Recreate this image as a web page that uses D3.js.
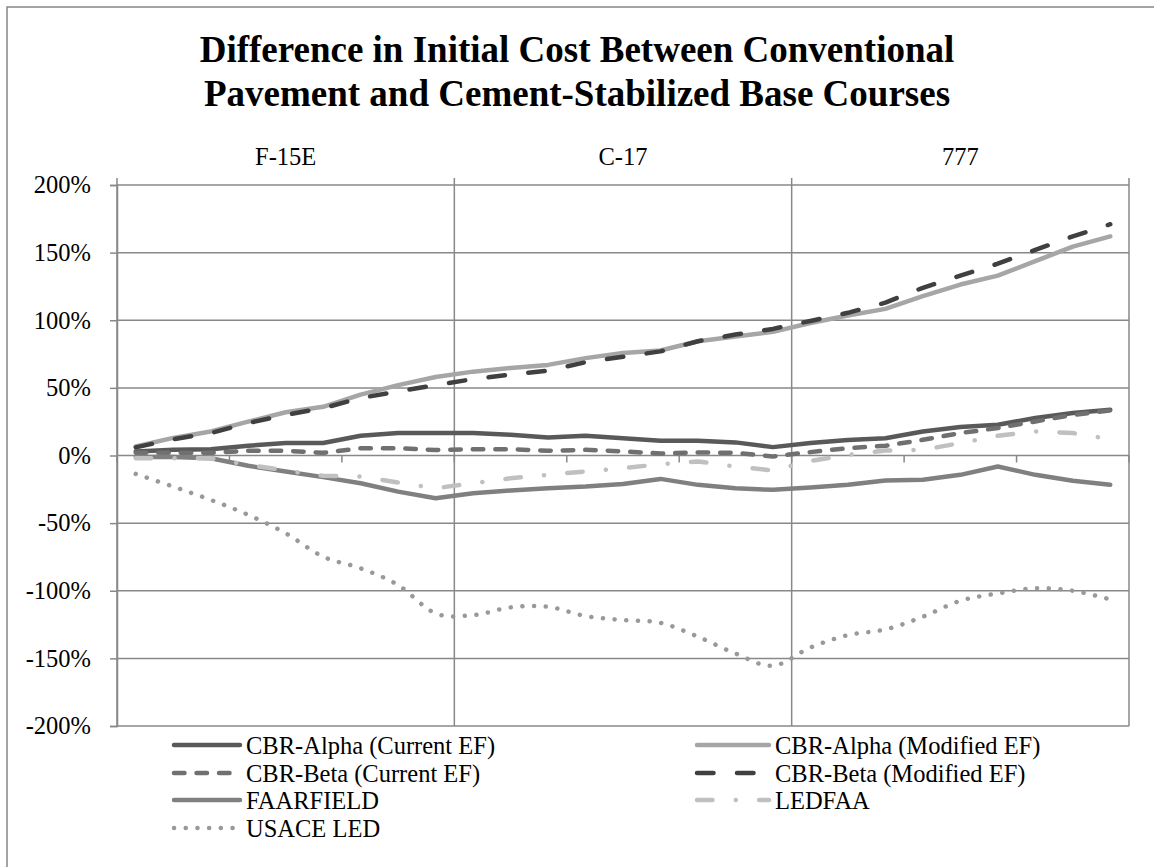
<!DOCTYPE html>
<html>
<head>
<meta charset="utf-8">
<script src="https://cdn.jsdelivr.net/npm/d3@7"></script>
<style>
  html, body { margin: 0; padding: 0; background: #fff; }
  svg { display: block; }
  text { font-family: "Liberation Serif", "Times New Roman", serif; fill: #000; }
</style>
</head>
<body>
<svg id="chart" width="1154" height="867"></svg>
<script>
// ---------------- data ----------------
const aircraft = ["F-15E", "C-17", "777"];
const cases = ["1", "2", "3", "4", "5", "6", "7", "8", "9"];
const categories = aircraft.flatMap(a => cases.map(c => a + "-" + c));

const yTicks = [-200, -150, -100, -50, 0, 50, 100, 150, 200];

const seriesNames = [
  "CBR-Alpha (Current EF)", "CBR-Alpha (Modified EF)",
  "CBR-Beta (Current EF)", "CBR-Beta (Modified EF)",
  "FAARFIELD", "LEDFAA", "USACE LED"
];

const cbrAlphaCurrent = [3, 4.2, 4.7, 7.2, 9.2, 9.2, 14.6, 16.6, 16.6, 16.6, 15.3, 13.3, 14.6, 12.8, 10.9, 10.9, 9.7, 6.2, 9.2, 11.5, 12.8, 17.8, 21, 22.7, 27.7, 31.4, 33.8];
const cbrAlphaModified = [6.7, 13, 17.8, 25, 32, 36, 45, 52, 58, 62, 64.7, 67, 72, 75.8, 77.6, 84.5, 88, 91.4, 98, 103.5, 108.4, 117.8, 126.4, 133, 143.7, 154.4, 162];
const cbrBetaCurrent = [2, 2, 2, 3.5, 3.5, 2, 5.4, 5.4, 4, 4.7, 4.7, 3.5, 4.2, 3, 1.5, 2.2, 2, -0.7, 2.5, 5.4, 7.2, 11.6, 16.6, 20.3, 25.2, 30, 33.3];
const cbrBetaModified = [6, 12, 16.6, 24, 30, 35, 42.5, 47.4, 52, 56.5, 59.8, 62.7, 69, 73, 77, 84.5, 89.4, 93.6, 99.5, 105.5, 113, 124, 133, 141.8, 152, 162, 171];
const faarfield = [-1.2, -1.2, -2, -7.6, -11.8, -16, -20.5, -26.7, -31.6, -27.9, -25.9, -24.2, -23, -21, -17.3, -21.7, -24.2, -25.4, -23.7, -21.7, -18.5, -18, -14.3, -8.1, -14.3, -18.7, -21.7];
const ledfaa = [-2, -2, -2, -6.9, -11.1, -15, -15.5, -20, -24.2, -20.5, -16.8, -14.3, -11.8, -9.4, -6.4, -4.4, -8.1, -11.1, -4, 0.5, 3.7, 4.2, 9.2, 14.6, 17.8, 16.6, 12.1];
const usaceLed = [-13.6, -23, -32.8, -43.9, -57.5, -74.8, -83.4, -95.8, -116.7, -118, -112.3, -111.8, -118.7, -121.7, -123.7, -134, -146.4, -155.5, -142, -132.8, -128.6, -119.2, -107.4, -102, -98.2, -100, -106.4];

const seriesValues = [cbrAlphaCurrent, cbrAlphaModified, cbrBetaCurrent, cbrBetaModified, faarfield, ledfaa, usaceLed];

// ---------------- styles ----------------
const styles = [
  { color: "#595959", dash: null, smooth: false },
  { color: "#a6a6a6", dash: null, smooth: false },
  { color: "#707070", dash: "10.5,12", smooth: false },
  { color: "#404040", dash: "16.5,23.5", smooth: false },
  { color: "#808080", dash: null, smooth: false },
  { color: "#c0c0c0", dash: "15.5,23.25,0.1,23.25", smooth: false },
  { color: "#999999", dash: "0.1,11.6", smooth: true }
];

// ---------------- layout ----------------
const svg = d3.select("#chart");
const W = 1154, H = 867;
const plot = { left: 117, right: 1129, top: 185, bottom: 726 };
const gridColor = "#888888";

svg.append("rect").attr("x", 0).attr("y", 0).attr("width", W).attr("height", H).attr("fill", "#fff");
svg.append("rect").attr("x", 7).attr("y", 7).attr("width", W + 20).attr("height", H + 20)
  .attr("fill", "none").attr("stroke", "#878787").attr("stroke-width", 1.5);

const x = d3.scaleBand().domain(categories).range([plot.left, plot.right]);
const xg = d3.scaleBand().domain(aircraft).range([plot.left, plot.right]);
const y = d3.scaleLinear().domain([-200, 200]).range([plot.bottom, plot.top]);
const cx = c => x(c) + x.bandwidth() / 2;

// title
const title = svg.append("text").attr("text-anchor", "middle")
  .style("font-weight", "bold").style("font-size", "37px");
title.append("tspan").attr("x", 577).attr("y", 62).text("Difference in Initial Cost Between Conventional");
title.append("tspan").attr("x", 577).attr("y", 106).text("Pavement and Cement-Stabilized Base Courses");

// horizontal gridlines
svg.append("g").selectAll("line").data(yTicks).join("line")
  .attr("x1", plot.left).attr("x2", plot.right)
  .attr("y1", d => y(d)).attr("y2", d => y(d))
  .attr("stroke", gridColor).attr("stroke-width", 1.5);

// vertical group boundaries (gridlines)
const boundaries = aircraft.map(a => xg(a) + xg.bandwidth()).concat([plot.left]);
svg.append("g").selectAll("line").data(boundaries).join("line")
  .attr("x1", d => d).attr("x2", d => d)
  .attr("y1", plot.top - 7).attr("y2", plot.bottom)
  .attr("stroke", gridColor).attr("stroke-width", 1.5);

// left axis
const yAxis = svg.append("g").attr("transform", `translate(${plot.left},0)`)
  .call(d3.axisLeft(y).tickValues(yTicks).tickFormat(d => d + "%").tickSize(7).tickPadding(19));
yAxis.select(".domain").attr("stroke", gridColor).attr("stroke-width", 1.5);
yAxis.selectAll(".tick line").attr("stroke", gridColor).attr("stroke-width", 1.5);
yAxis.selectAll(".tick text").style("font-size", "24.5px").style("font-family", "'Liberation Serif', serif").attr("fill", "#000");

// category ticks on zero line (every 3 categories)
const catTickCats = categories.filter((c, i) => i % 3 === 0);
svg.append("g").selectAll("line").data(catTickCats.concat(["__end"])).join("line")
  .attr("x1", d => d === "__end" ? plot.right : x(d))
  .attr("x2", d => d === "__end" ? plot.right : x(d))
  .attr("y1", y(0)).attr("y2", y(0) + 7)
  .attr("stroke", gridColor).attr("stroke-width", 1.5);

// top group axis labels
const topAxis = svg.append("g").attr("transform", `translate(0,${plot.top})`)
  .call(d3.axisTop(xg).tickSize(0).tickPadding(20));
topAxis.select(".domain").remove();
topAxis.selectAll(".tick text").style("font-size", "24.5px").style("font-family", "'Liberation Serif', serif").attr("fill", "#000");

// series lines
const lineStraight = d3.line().x((d, i) => cx(categories[i])).y(d => y(d));
const lineSmooth = d3.line().x((d, i) => cx(categories[i])).y(d => y(d)).curve(d3.curveCatmullRom.alpha(0));

const gLines = svg.append("g");
seriesValues.forEach((vals, k) => {
  const st = styles[k];
  gLines.append("path")
    .attr("d", (st.smooth ? lineSmooth : lineStraight)(vals))
    .attr("fill", "none")
    .attr("stroke", st.color)
    .attr("stroke-width", 4.5)
    .attr("stroke-linecap", "round")
    .attr("stroke-linejoin", "round")
    .attr("stroke-dasharray", st.dash);
});

// legend
const legendCols = [{ x1: 174, x2: 240, tx: 246 }, { x1: 697, x2: 769, tx: 775 }];
const legendRows = [745, 773, 800, 828];
const legend = svg.append("g");
seriesNames.forEach((name, k) => {
  const col = legendCols[k % 2];
  const ry = legendRows[Math.floor(k / 2)];
  const st = styles[k];
  legend.append("line")
    .attr("x1", col.x1).attr("x2", col.x2).attr("y1", ry).attr("y2", ry)
    .attr("stroke", st.color).attr("stroke-width", 4.5)
    .attr("stroke-linecap", "round")
    .attr("stroke-dasharray", st.dash);
  legend.append("text").attr("x", col.tx).attr("y", ry + 8.5)
    .style("font-size", "24.5px").text(name);
});
</script>
</body>
</html>
